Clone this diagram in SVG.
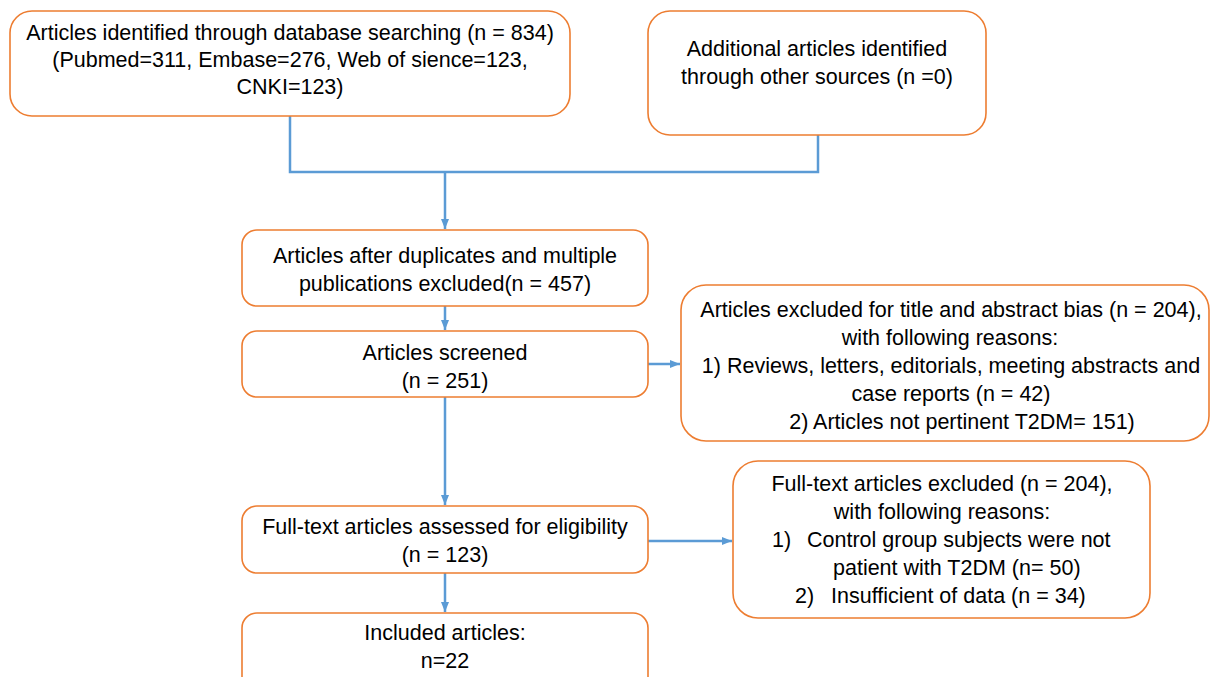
<svg xmlns="http://www.w3.org/2000/svg" width="1210" height="677" viewBox="0 0 1210 677">
<style>
.box{fill:#fff;stroke:#ED7D31;stroke-width:1.6}
.t{font-family:"Liberation Sans",Arial,sans-serif;font-size:21.5px;fill:#000;text-anchor:middle}
.s{text-anchor:start}
.c{fill:none;stroke:#5B9BD5;stroke-width:2.5}
</style>
<defs>
<marker id="ah" markerUnits="userSpaceOnUse" markerWidth="10" markerHeight="8" refX="10" refY="4" orient="auto">
<path d="M0,0 L10,4 L0,8 z" fill="#5B9BD5"/>
</marker>
</defs>
<rect width="1210" height="677" fill="#fff"/>
<g id="connectors">
<path class="c" d="M290,116 V172 H818 V135"/>
<path class="c" d="M445,172 V229" marker-end="url(#ah)"/>
<path class="c" d="M445,306 V330" marker-end="url(#ah)"/>
<path class="c" d="M648,364 H680" marker-end="url(#ah)"/>
<path class="c" d="M445,397 V505" marker-end="url(#ah)"/>
<path class="c" d="M648,541 H732" marker-end="url(#ah)"/>
<path class="c" d="M445,573 V612" marker-end="url(#ah)"/>
</g>
<g id="n1">
<rect class="box" x="10" y="11" width="560" height="105" rx="22"/>
<text class="t" x="290" y="40">Articles identified through database searching (n = 834)</text>
<text class="t" x="290" y="67">(Pubmed=311, Embase=276, Web of sience=123,</text>
<text class="t" x="290" y="94">CNKI=123)</text>
</g>
<g id="n2">
<rect class="box" x="648" y="11" width="338" height="124" rx="22"/>
<text class="t" x="817" y="56">Additional articles identified</text>
<text class="t" x="817" y="84">through other sources (n =0)</text>
</g>
<g id="n3">
<rect class="box" x="242" y="230" width="406" height="76" rx="15"/>
<text class="t" x="445" y="263">Articles after duplicates and multiple</text>
<text class="t" x="445" y="291">publications excluded(n = 457)</text>
</g>
<g id="n4">
<rect class="box" x="242" y="331" width="406" height="66" rx="15"/>
<text class="t" x="445" y="360">Articles screened</text>
<text class="t" x="445" y="388">(n = 251)</text>
</g>
<g id="n5">
<rect class="box" x="681" y="285" width="528" height="156" rx="25"/>
<text class="t" x="951" y="317">Articles excluded for title and abstract bias (n = 204),</text>
<text class="t" x="950" y="345">with following reasons:</text>
<text class="t" x="951" y="373">1) Reviews, letters, editorials, meeting abstracts and</text>
<text class="t" x="951" y="401">case reports (n = 42)</text>
<text class="t" x="962" y="429">2) Articles not pertinent T2DM= 151)</text>
</g>
<g id="n6">
<rect class="box" x="242" y="506" width="406" height="67" rx="15"/>
<text class="t" x="445" y="534">Full-text articles assessed for eligibility</text>
<text class="t" x="445" y="562">(n = 123)</text>
</g>
<g id="n7">
<rect class="box" x="733" y="461" width="417" height="157" rx="25"/>
<text class="t" x="942" y="491">Full-text articles excluded (n = 204),</text>
<text class="t" x="942" y="519">with following reasons:</text>
<text class="t s" x="772" y="547">1)</text>
<text class="t s" x="807" y="547">Control group subjects were not</text>
<text class="t s" x="833" y="575">patient with T2DM (n= 50)</text>
<text class="t s" x="795" y="603">2)</text>
<text class="t s" x="831" y="603">Insufficient of data (n = 34)</text>
</g>
<g id="n8">
<rect class="box" x="242" y="613" width="406" height="80" rx="15"/>
<text class="t" x="445" y="640">Included articles:</text>
<text class="t" x="445" y="668">n=22</text>
</g>
</svg>
